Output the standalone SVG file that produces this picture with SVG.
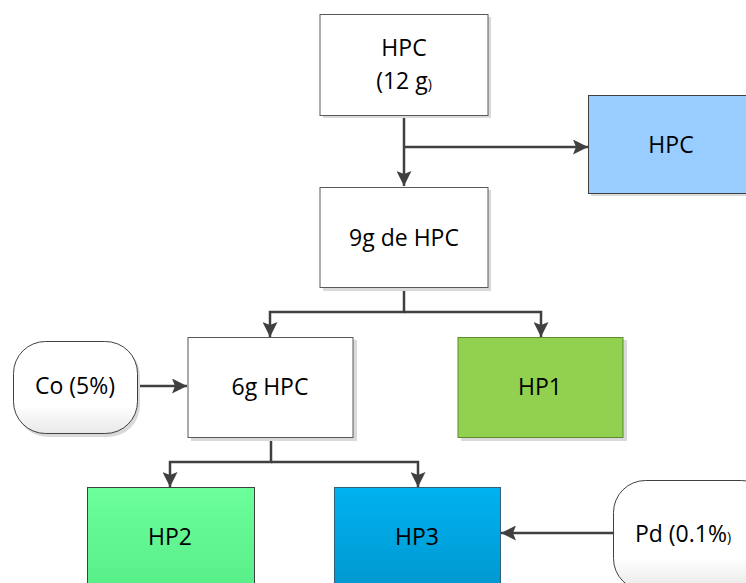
<svg xmlns="http://www.w3.org/2000/svg" width="746" height="583" viewBox="0 0 746 583">
<style>
.t{font-family:"Open Sans","Noto Sans",sans-serif;font-size:23px;fill:#000;text-anchor:middle}
.s{font-size:14px}
.c{fill:none;stroke:#404040;stroke-width:2.5}
.sh{fill:#d9d9d9}
.w{fill:#fff;stroke:#595959;stroke-width:1}
</style>
<defs>
<marker id="a" viewBox="0 0 15 15" refX="15" refY="7.5" markerWidth="15" markerHeight="15" markerUnits="userSpaceOnUse" orient="auto">
<path d="M0,0 L15,7.5 L0,15 L3,7.5 Z" fill="#404040"/>
</marker>
<linearGradient id="gw" x1="0" y1="0" x2="0" y2="1"><stop offset="0.7" stop-color="#fff"/><stop offset="1" stop-color="#e8e8e8"/></linearGradient>
<linearGradient id="g2" x1="0" y1="0" x2="0" y2="1"><stop offset="0" stop-color="#6cff9c"/><stop offset="1" stop-color="#58ee88"/></linearGradient>
<linearGradient id="g3" x1="0" y1="0" x2="0" y2="1"><stop offset="0" stop-color="#00b2f0"/><stop offset="1" stop-color="#0098d0"/></linearGradient>
</defs>
<g id="connectors">
<path class="c" d="M404,115 V186" marker-end="url(#a)"/>
<path class="c" d="M404,147 H588" marker-end="url(#a)"/>
<path class="c" d="M404,288 V312 H270 V337"  marker-end="url(#a)"/>
<path class="c" d="M404,312 H541 V337" marker-end="url(#a)"/>
<path class="c" d="M137,386 H187" marker-end="url(#a)"/>
<path class="c" d="M271,438 V462 H170 V487" marker-end="url(#a)"/>
<path class="c" d="M271,462 H418 V487" marker-end="url(#a)"/>
<path class="c" d="M613,533 H501" marker-end="url(#a)"/>
</g>
<g id="n-hpc12">
<rect class="sh" x="323" y="17" width="168" height="101"/>
<rect class="w" x="320" y="14.5" width="168" height="101"/>
<text class="t" x="404" y="56">HPC</text>
<text class="t" x="404" y="89">(12 g<tspan class="s">)</tspan></text>
</g>
<g id="n-hpc">
<rect class="sh" x="591" y="98" width="160" height="98"/>
<rect x="588.5" y="95.5" width="162" height="98" fill="#99ccff" stroke="#404040" stroke-width="1"/>
<text class="t" x="671" y="153">HPC</text>
</g>
<g id="n-9g">
<rect class="sh" x="323" y="190" width="168" height="101"/>
<rect class="w" x="320" y="187.5" width="168" height="100"/>
<text class="t" x="404" y="246">9g de HPC</text>
</g>
<g id="n-6g">
<rect class="sh" x="191" y="340" width="166" height="101"/>
<rect class="w" x="188" y="337.5" width="165" height="100"/>
<text class="t" x="270" y="395">6g HPC</text>
</g>
<g id="n-hp1">
<rect class="sh" x="461" y="340" width="166" height="101"/>
<rect x="458" y="337.5" width="165" height="100" fill="#92d050" stroke="#5e8a30" stroke-width="1"/>
<text class="t" x="540" y="395">HP1</text>
</g>
<g id="n-co">
<rect class="sh" x="16" y="344" width="124" height="93" rx="32"/>
<rect x="13.5" y="341.5" width="124" height="92" rx="32" fill="url(#gw)" stroke="#404040" stroke-width="1"/>
<text class="t" x="75" y="394">Co (5%)</text>
</g>
<g id="n-hp2">
<rect x="87.5" y="487.5" width="167" height="100" fill="url(#g2)" stroke="#404040" stroke-width="1"/>
<text class="t" x="170" y="545">HP2</text>
</g>
<g id="n-hp3">
<rect x="334.5" y="487.5" width="166" height="100" fill="url(#g3)" stroke="#2f5f7f" stroke-width="1"/>
<text class="t" x="417" y="545">HP3</text>
</g>
<g id="n-pd">
<rect x="613.5" y="480.5" width="160" height="110" rx="32" fill="url(#gw)" stroke="#404040" stroke-width="1"/>
<text class="t" x="683" y="542">Pd (0.1%<tspan class="s">)</tspan></text>
</g>
</svg>
